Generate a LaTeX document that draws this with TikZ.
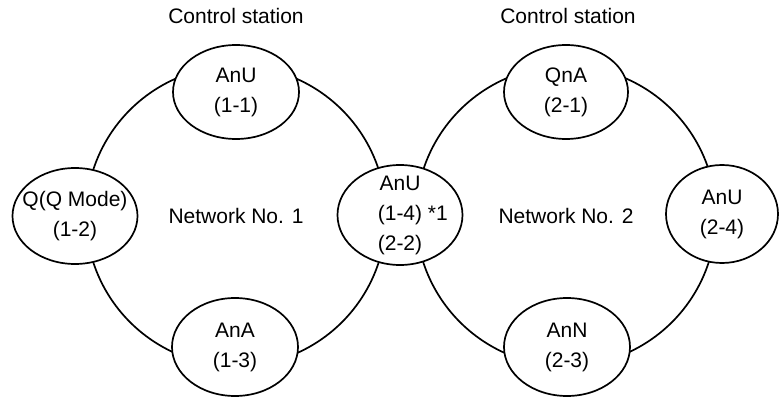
\documentclass[tikz,border=0pt]{standalone}
\usepackage{fontspec}
\setmainfont{Liberation Sans}
\usetikzlibrary{shapes.geometric}

\begin{document}
\begin{tikzpicture}[x=1pt,y=-1pt,line width=1.7pt,font=\fontsize{21}{30}\selectfont]
    \tikzstyle{station} = [draw, fill=white, ellipse, inner sep=-12pt, minimum width=126pt, minimum height=94pt, align=center]
    \useasboundingbox (0,0) rectangle (780,398);

    % Ring centres
    \coordinate (ring1) at (236,216);
    \coordinate (ring2) at (566,216);

    % Rings (under the stations)
    \draw (ring1) circle (150pt);
    \draw (ring2) circle (150pt);

    % Network No. 1
    \node[station] (s11) at (236,92) {AnU\\(1-1)};
    \node[station, minimum width=125pt, minimum height=96pt] (s12) at (75,216) {Q(Q Mode)\\(1-2)};
    \node[station, minimum height=98pt] (s13) at (235,347) {AnA\\(1-3)};

    % Shared station
    \node[station, minimum width=125pt, minimum height=100pt] (s14) at (400,215) {AnU\\(1-4)\rlap{\ *1}\\(2-2)};

    % Network No. 2
    \node[station, minimum width=124pt] (s21) at (566,92) {QnA\\(2-1)};
    \node[station, minimum height=98pt] (s23) at (567,347) {AnN\\(2-3)};
    \node[station, minimum width=112pt, minimum height=98pt] (s24) at (722,214) {AnU\\(2-4)};

    % Labels
    \node (ctl1) at (236,16) {Control station};
    \node (ctl2) at (568,16) {Control station};
    \node (net1) at (ring1) {Network No. 1};
    \node (net2) at (ring2) {Network No. 2};
\end{tikzpicture}
\end{document}
